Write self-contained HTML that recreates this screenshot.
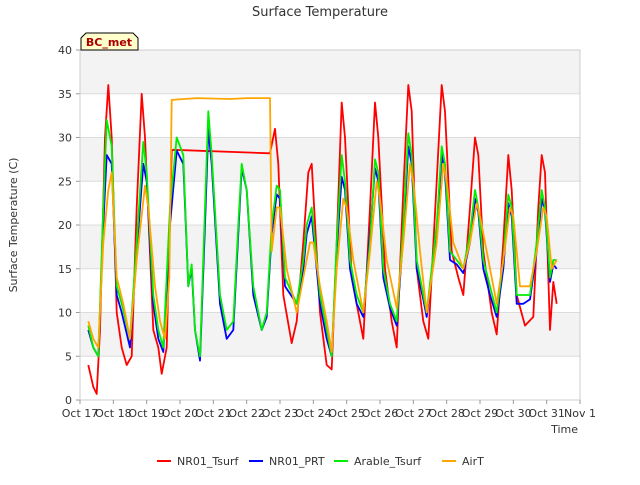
<!DOCTYPE html>
<html><head><meta charset="utf-8"><style>
body{margin:0;background:#fff;font-family:"Liberation Sans","DejaVu Sans",sans-serif}
svg text{font-family:"DejaVu Sans","Liberation Sans",sans-serif}
</style></head><body>
<svg id="c" width="640" height="480" xmlns="http://www.w3.org/2000/svg"></svg>
<script>
const xTickLabels=["Oct 17","Oct 18","Oct 19","Oct 20","Oct 21","Oct 22","Oct 23","Oct 24","Oct 25","Oct 26","Oct 27","Oct 28","Oct 29","Oct 30","Oct 31","Nov 1"];
const yTicks=[0,5,10,15,20,25,30,35,40];
const redT=[0.25,0.4,0.5,0.6,0.75,0.85,0.95,1.1,1.25,1.4,1.55,1.7,1.85,1.95,2.2,2.35,2.45,2.6,2.75,2.8,5.7,5.85,5.95,6.1,6.35,6.5,6.7,6.85,6.95,7.2,7.4,7.55,7.7,7.85,7.95,8.15,8.35,8.5,8.7,8.85,8.95,9.15,9.35,9.5,9.7,9.85,9.95,10.1,10.3,10.45,10.7,10.85,10.95,11.15,11.35,11.5,11.7,11.85,11.95,12.1,12.35,12.5,12.7,12.85,12.95,13.1,13.35,13.6,13.75,13.85,13.95,14.1,14.2,14.3];
const redV=[4,1.5,0.7,8,30,36,30,10,6,4,5,22,35,30,8,6,3,6,28.5,28.6,28.2,31,27,12,6.5,9,18,26,27,10,4,3.5,18,34,30,14,10,7,22,34,30,15,9,6,24,36,33,15,9,7,25,36,33,17,14,12,22,30,28,17,10,7.5,18,28,24,12,8.5,9.5,22,28,26,8,13.5,11];
const greenT=[0.25,0.4,0.55,0.7,0.8,0.95,1.1,1.25,1.5,1.7,1.9,2.0,2.2,2.35,2.5,2.7,2.9,3.1,3.25,3.35,3.45,3.6,3.75,3.85,3.95,4.2,4.4,4.6,4.75,4.85,5.0,5.2,5.45,5.6,5.75,5.9,6.0,6.15,6.5,6.7,6.8,6.95,7.2,7.4,7.55,7.7,7.85,7.95,8.1,8.3,8.5,8.7,8.85,8.95,9.1,9.3,9.5,9.7,9.85,9.95,10.1,10.3,10.4,10.7,10.85,10.95,11.1,11.3,11.5,11.7,11.85,11.95,12.1,12.3,12.5,12.7,12.85,12.95,13.1,13.3,13.5,13.7,13.85,13.95,14.1,14.2,14.3];
const greenV=[8.5,6,5,22,32,29,13,11,7,18,29.5,26,12,8,6,22,30,28,13,15.5,8,5,22,33,28,12,8,9,20,27,24,13,8,10,20,24.5,24,14,11,16,20,22,12,8,5,18,28,25,16,12,10,18,27.5,26,15,11,9,20,30.5,28,16,12,10,20,29,27,17,16,15,19,24,22,16,13,10,16,23.5,22,12,12,12,18,24,22,14,16,16];
const blueT=greenT;
const blueV=[8,6,5,20,28,27,12,10,6,17,27,25,11,7,5.5,20,28.5,27,13,15,8,4.5,20,31,27,11,7,8,19,26.5,24,12,8,9.5,19,23.5,23,13,11,15,19,21,11,7,5,17,25.5,24,15,11,9.5,19,26.5,25,14,10.5,8.5,19,29,27,15,11.5,9.5,19,28,26,16,15.5,14.5,18,23,21.5,15,12,9.5,15,22.5,21,11,11,11.5,17,23,21.5,13.5,15.5,15];
const airT=[0.25,0.4,0.55,0.7,0.85,0.95,1.1,1.3,1.5,1.7,1.95,2.05,2.25,2.4,2.55,2.68,2.75,3.5,4.5,5.0,5.5,5.7,5.75,5.9,6.0,6.2,6.5,6.7,6.9,7.0,7.2,7.4,7.55,7.7,7.9,8.0,8.2,8.5,8.7,8.9,9.0,9.2,9.5,9.7,9.9,10.0,10.2,10.4,10.7,10.9,11.0,11.2,11.5,11.7,11.9,12.0,12.2,12.5,12.7,12.9,13.0,13.2,13.5,13.7,13.9,14.0,14.15,14.3];
const airV=[9,7,6,18,24,26,14,11,7,16,24.5,22,13,9,7,14,34.3,34.5,34.4,34.5,34.5,34.5,17,22,22,15,10,14,18,18,13,9,5.5,15,23,22,16,10,17,25,23,16,10.5,18,27,25,17,10,18,27,25,18,15,18,22.5,21,17,11,16,22,21,13,13,17,22,21,15,16];

const svg=document.getElementById('c');
const NS='http://www.w3.org/2000/svg';
const X0=80,X1=580,Y0=400,Y1=50;
const xs=t=>X0+t*(X1-X0)/15;
const ys=v=>Y0-v*(Y0-Y1)/40;
function mk(tag,attrs,parent){const e=document.createElementNS(NS,tag);for(const k in attrs)e.setAttribute(k,attrs[k]);(parent||svg).appendChild(e);return e;}
// background bands
for(let i=0;i<8;i++){
  const r=mk('rect',{x:X0,y:ys(yTicks[i+1]),width:X1-X0,height:ys(yTicks[i])-ys(yTicks[i+1]),fill:i%2?'#f3f3f3':'#ffffff'});
  
  
}
yTicks.forEach(v=>{
  const g=mk('line',{x1:X0,x2:X1,y1:ys(v),y2:ys(v),stroke:'#dcdcdc','stroke-width':1});
  
  
  const tk=mk('line',{x1:X0-4,x2:X0,y1:ys(v),y2:ys(v),stroke:'#999'});
  
  
  const t=mk('text',{x:X0-8,y:ys(v)+4,'text-anchor':'end','font-size':11,fill:'#333'});
  t.textContent=v;
  
  
});
const fr=mk('rect',{x:X0,y:Y1,width:X1-X0,height:Y0-Y1,fill:'none',stroke:'#ccc'});


xTickLabels.forEach((l,i)=>{
  const tk=mk('line',{x1:xs(i),x2:xs(i),y1:Y0,y2:Y0+4,stroke:'#999'});
  
  
  const t=mk('text',{x:xs(i),y:Y0+17,'text-anchor':'middle','font-size':11,fill:'#333'});
  t.textContent=l;
  
  
});
function series(T,V,color,name){
  const p=mk('polyline',{points:T.map((t,i)=>xs(t).toFixed(1)+','+ys(V[i]).toFixed(1)).join(' '),fill:'none',stroke:color,'stroke-width':1.8,'stroke-linejoin':'round'});
  
  
}
series(redT,redV,'#ff0000','nr01-tsurf-line');
series(blueT,blueV,'#0000ff','nr01-prt-line');
series(greenT,greenV,'#00ee00','arable-tsurf-line');
series(airT,airV,'#ffa500','airt-line');
</script>
<svg width="640" height="480" style="position:absolute;left:0;top:0" xmlns="http://www.w3.org/2000/svg">
<text x="320" y="16" text-anchor="middle" font-size="13" fill="#333">Surface Temperature</text>
<text transform="translate(17,225) rotate(-90)" text-anchor="middle" font-size="11" fill="#333">Surface Temperature (C)</text>
<text x="578" y="433" text-anchor="end" font-size="11" fill="#333">Time</text>
<g>
<path d="M81,50 L81,38 L86,33 L133,33 L138,38 L138,50 Z" fill="#ffffcc" stroke="#000" stroke-width="1"/>
<text x="109" y="46" text-anchor="middle" font-size="11" font-weight="bold" fill="#aa0000">BC_met</text>
</g>
<g font-size="11" fill="#333">
<g><line x1="157" x2="171" y1="461" y2="461" stroke="#ff0000" stroke-width="2"/><text x="177" y="465">NR01_Tsurf</text></g>
<g><line x1="249" x2="263" y1="461" y2="461" stroke="#0000ff" stroke-width="2"/><text x="269" y="465">NR01_PRT</text></g>
<g><line x1="334" x2="348" y1="461" y2="461" stroke="#00ee00" stroke-width="2"/><text x="354" y="465">Arable_Tsurf</text></g>
<g><line x1="442" x2="456" y1="461" y2="461" stroke="#ffa500" stroke-width="2"/><text x="462" y="465">AirT</text></g>
</g>
</svg>
</body></html>
